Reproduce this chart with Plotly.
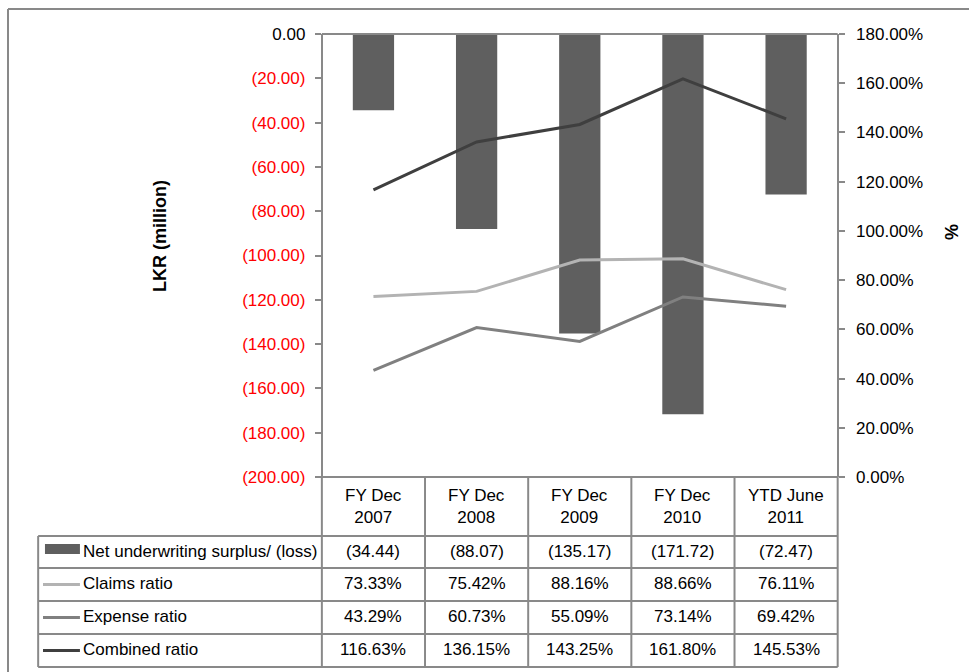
import plotly.graph_objects as go

# ---- data ----
periods = ["FY Dec 2007", "FY Dec 2008", "FY Dec 2009", "FY Dec 2010", "YTD June 2011"]
net_uw_surplus = [-34.44, -88.07, -135.17, -171.72, -72.47]   # LKR million
claims_ratio = [73.33, 75.42, 88.16, 88.66, 76.11]             # %
expense_ratio = [43.29, 60.73, 55.09, 73.14, 69.42]            # %
combined_ratio = [116.63, 136.15, 143.25, 161.80, 145.53]      # %

left_ticks = [0, -20, -40, -60, -80, -100, -120, -140, -160, -180, -200]
right_ticks = [0, 20, 40, 60, 80, 100, 120, 140, 160, 180]

# ---- styling ----
FONT = "Liberation Sans, Arial, sans-serif"
AXIS_GREY = "#898989"
BAR_COL = "#5f5f5f"
CLAIMS_COL = "#b3b3b3"
EXPENSE_COL = "#808080"
COMBINED_COL = "#3f3f3f"

W, H = 969, 672
M_L, M_R, M_T, M_B = 33, 121, 34, 195
PLOT_W = W - M_L - M_R
PLOT_H = H - M_T - M_B
X_MIN, X_MAX = -3.3, 4.6          # legend column sits left of the first category
LEG_LEFT = -3.25


def py(px):
    """pixel row -> paper y"""
    return (H - M_B - px) / PLOT_H


def px_x(px):
    """pixel column -> paper x"""
    return (px - M_L) / PLOT_W


def fmt_lkr(v):
    return f"({abs(v):.2f})" if v < 0 else f"{v:.2f}"


def fmt_pct(v):
    return f"{v:.2f}%"


x_idx = list(range(len(periods)))

fig = go.Figure()
fig.add_trace(go.Bar(x=x_idx, y=net_uw_surplus, width=0.4, marker_color=BAR_COL,
                     marker_line_width=0, name="Net underwriting surplus/ (loss)", yaxis="y"))
for name, vals, col in [("Claims ratio", claims_ratio, CLAIMS_COL),
                        ("Expense ratio", expense_ratio, EXPENSE_COL),
                        ("Combined ratio", combined_ratio, COMBINED_COL)]:
    fig.add_trace(go.Scatter(x=x_idx, y=vals, mode="lines", name=name, yaxis="y2",
                             line=dict(color=col, width=3)))

left_text = [("0.00" if v == 0 else f"<span style='color:#ff0000'>{fmt_lkr(v)}</span>")
             for v in left_ticks]

fig.update_layout(
    width=W, height=H,
    margin=dict(l=M_L, r=M_R, t=M_T, b=M_B, pad=0),
    paper_bgcolor="white", plot_bgcolor="white",
    showlegend=False,
    font=dict(family=FONT, size=17, color="black"),
    xaxis=dict(range=[X_MIN, X_MAX], domain=[0, 1], showgrid=False, zeroline=False,
               showline=False, showticklabels=False, ticks=""),
    yaxis=dict(range=[-200, 0], domain=[0, 1], anchor="free",
               position=(-0.5 - X_MIN) / (X_MAX - X_MIN),
               tickvals=left_ticks, ticktext=left_text,
               showgrid=False, zeroline=False, showline=True, linecolor=AXIS_GREY,
               linewidth=2, ticks="outside", ticklen=6, tickwidth=2, tickcolor=AXIS_GREY,
               ticklabelstandoff=6, tickfont=dict(size=17)),
    yaxis2=dict(range=[0, 180], overlaying="y", side="right", anchor="free",
                position=(4.5 - X_MIN) / (X_MAX - X_MIN),
                tickvals=right_ticks, ticktext=[fmt_pct(v) for v in right_ticks],
                showgrid=False, zeroline=False, showline=True, linecolor=AXIS_GREY,
                linewidth=2, ticks="outside", ticklen=6, tickwidth=2, tickcolor=AXIS_GREY,
                ticklabelstandoff=8, tickfont=dict(size=17)),
)

shapes = []
annotations = []


def hline(x0, x1, ypx, xref="x"):
    shapes.append(dict(type="line", xref=xref, yref="paper", x0=x0, x1=x1,
                       y0=py(ypx), y1=py(ypx), line=dict(color=AXIS_GREY, width=2)))


def vline(x, y0px, y1px):
    shapes.append(dict(type="line", xref="x", yref="paper", x0=x, x1=x,
                       y0=py(y0px), y1=py(y1px), line=dict(color=AXIS_GREY, width=2)))


# category axis along the zero line (top of the plot)
hline(-0.5, len(periods) - 0.5, M_T)

# data table grid
HEADER_TOP, HEADER_BOT = 477, 536
row_edges = [536, 568, 601, 634, 667]
hline(-0.5, len(periods) - 0.5, HEADER_TOP)
for r in row_edges:
    hline(LEG_LEFT, len(periods) - 0.5, r)
for i in range(len(periods) + 1):
    vline(i - 0.5, HEADER_TOP, row_edges[-1])
vline(LEG_LEFT, row_edges[0], row_edges[-1])

# header cells
for i, p in enumerate(periods):
    words = p.split(" ")
    label = " ".join(words[:-1]) + "<br>" + words[-1]
    annotations.append(dict(xref="x", yref="paper", x=i, y=py((HEADER_TOP + HEADER_BOT) / 2),
                            text=label, showarrow=False, font=dict(size=17),
                            xanchor="center", yanchor="middle"))

# table rows: legend key + values
rows = [("Net underwriting surplus/ (loss)", net_uw_surplus, fmt_lkr, "bar", BAR_COL),
        ("Claims ratio", claims_ratio, fmt_pct, "line", CLAIMS_COL),
        ("Expense ratio", expense_ratio, fmt_pct, "line", EXPENSE_COL),
        ("Combined ratio", combined_ratio, fmt_pct, "line", COMBINED_COL)]
for k, (name, vals, fmt, kind, col) in enumerate(rows):
    cy = (row_edges[k] + row_edges[k + 1]) / 2
    if kind == "bar":
        shapes.append(dict(type="rect", xref="x", yref="paper", x0=-3.184, x1=-2.845,
                           y0=py(cy - 8), y1=py(cy + 2), fillcolor=col, line=dict(width=0)))
    else:
        shapes.append(dict(type="line", xref="x", yref="paper", x0=-3.203, x1=-2.845,
                           y0=py(cy), y1=py(cy), line=dict(color=col, width=3)))
    annotations.append(dict(xref="x", yref="paper", x=-2.83, y=py(cy - 1), text=name,
                            showarrow=False, font=dict(size=17), xanchor="left",
                            yanchor="middle"))
    for i, v in enumerate(vals):
        annotations.append(dict(xref="x", yref="paper", x=i, y=py(cy - 1), text=fmt(v),
                                showarrow=False, font=dict(size=17), xanchor="center",
                                yanchor="middle"))

# axis titles
annotations.append(dict(xref="paper", yref="paper", x=px_x(160), y=py(236),
                        text="<b>LKR (million)</b>", textangle=-90, showarrow=False,
                        font=dict(size=18), xanchor="center", yanchor="middle"))
annotations.append(dict(xref="paper", yref="paper", x=px_x(952), y=py(232),
                        text="<b>%</b>", textangle=-90, showarrow=False,
                        font=dict(size=18), xanchor="center", yanchor="middle"))

# outer chart frame (left and top edges)
fx = px_x(8)
shapes.append(dict(type="line", xref="paper", yref="paper", x0=fx, x1=fx,
                   y0=py(H + 20), y1=py(9), line=dict(color=AXIS_GREY, width=2)))
shapes.append(dict(type="line", xref="paper", yref="paper", x0=fx, x1=1.5,
                   y0=py(9), y1=py(9), line=dict(color=AXIS_GREY, width=2)))

fig.update_layout(shapes=shapes, annotations=annotations)
fig.write_html("out.html")
